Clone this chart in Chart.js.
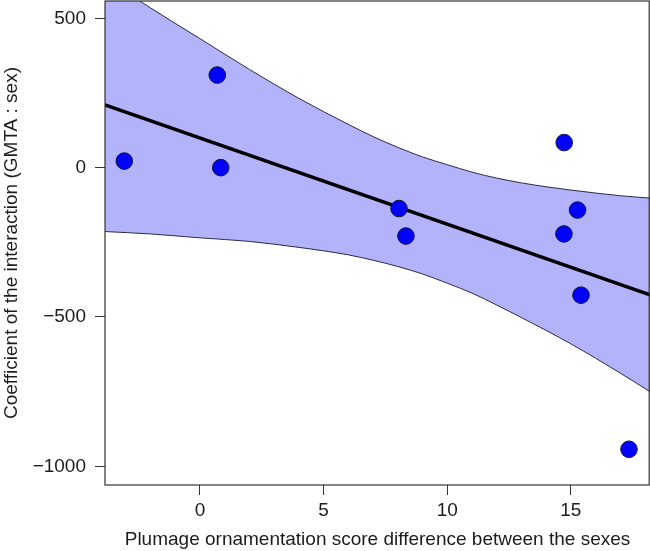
<!DOCTYPE html>
<html>
<head>
<meta charset="utf-8">
<script src="https://cdn.jsdelivr.net/npm/chart.js@4.4.1/dist/chart.umd.min.js"></script>
<style>
  html, body { margin: 0; padding: 0; background: #fff; }
  #chart { display: block; }
</style>
</head>
<body>
<canvas id="chart" width="650" height="551"></canvas>
<script>
// species points
const pointX = [-3.06, 0.70, 0.84, 8.05, 8.33, 14.73, 15.27, 14.72, 15.41, 17.35];
const pointY = [22, 310, 0, -137, -229, 84, -142, -222, -427, -943];

// fitted regression line (ends at plot edges)
const fitX = [-3.84, 18.2];
const fitY = [210, -426];

// confidence band
const bandX = [-3.84, -2, 0, 2, 4, 6, 7, 8, 9, 10, 11, 12, 13, 14, 15, 16, 17, 18.2];
const bandUpper = [636, 535, 432, 329, 232, 145, 104, 68, 36, 10, -15, -35, -51, -64, -75, -85, -94, -102];
const bandLower = [-214, -222, -235, -247, -267, -292, -310, -331, -356, -387, -420, -460, -502, -545, -590, -638, -688, -750];

const xTicks = [0, 5, 10, 15];
const yTicks = [-1000, -500, 0, 500];

const FONT = "'Liberation Sans', Arial, Helvetica, sans-serif";
const FONT_SIZE = 19;
const INK = '#1c1c1c';

const toXY = (xs, ys) => xs.map((x, i) => ({ x: x, y: ys[i] }));

// no extra room for tick labels, the plot fills its box
function noPad(scale) {
    scale.paddingTop = 0;
    scale.paddingBottom = 0;
    scale.paddingLeft = 0;
    scale.paddingRight = 0;
}

// box round the plot, as R's box()
const plotBox = {
    id: 'plotBox',
    afterDatasetsDraw(chart) {
        const { ctx, chartArea: a } = chart;
        ctx.save();
        ctx.strokeStyle = '#333';
        ctx.lineWidth = 1.2;
        ctx.strokeRect(a.left, a.top, a.right - a.left - 0.8, a.bottom - a.top);
        ctx.restore();
    }
};

new Chart(document.getElementById('chart'), {
    type: 'scatter',
    data: {
        datasets: [
            {
                label: 'points',
                data: toXY(pointX, pointY),
                order: 0,
                pointRadius: 8.3,
                pointHoverRadius: 8.3,
                backgroundColor: '#0000ff',
                borderColor: '#14143c',
                borderWidth: 1
            },
            {
                label: 'fit',
                data: toXY(fitX, fitY),
                order: 1,
                showLine: true,
                pointRadius: 0,
                borderColor: '#000',
                borderWidth: 3.5
            },
            {
                label: 'upper',
                data: toXY(bandX, bandUpper),
                order: 3,
                showLine: true,
                pointRadius: 0,
                borderColor: '#2a2a48',
                borderWidth: 1,
                cubicInterpolationMode: 'monotone',
                fill: '+1',
                backgroundColor: '#b3b3fb'
            },
            {
                label: 'lower',
                data: toXY(bandX, bandLower),
                order: 2,
                showLine: true,
                pointRadius: 0,
                borderColor: '#2a2a48',
                borderWidth: 1,
                cubicInterpolationMode: 'monotone'
            }
        ]
    },
    options: {
        responsive: false,
        animation: false,
        devicePixelRatio: 1,
        layout: { autoPadding: false, padding: { top: 1, right: 0, left: 0, bottom: 0 } },
        plugins: {
            legend: { display: false },
            tooltip: { enabled: false }
        },
        scales: {
            x: {
                type: 'linear',
                min: -3.84,
                max: 18.2,
                afterBuildTicks: (scale) => { scale.ticks = xTicks.map(v => ({ value: v })); },
                afterFit: (scale) => { scale.height = 66; noPad(scale); },
                border: { display: false },
                grid: { drawOnChartArea: false, drawTicks: true, tickLength: 10, color: '#333', lineWidth: 1 },
                ticks: { color: INK, font: { family: FONT, size: FONT_SIZE }, padding: 4, maxRotation: 0 },
                title: {
                    display: true,
                    text: 'Plumage ornamentation score difference between the sexes',
                    color: INK,
                    font: { family: FONT, size: FONT_SIZE },
                    padding: { top: 0, bottom: 0 }
                }
            },
            y: {
                type: 'linear',
                min: -1062.6,
                max: 558,
                afterBuildTicks: (scale) => { scale.ticks = yTicks.map(v => ({ value: v })); },
                afterFit: (scale) => { scale.width = 105; noPad(scale); },
                border: { display: false },
                grid: { drawOnChartArea: false, drawTicks: true, tickLength: 10, color: '#333', lineWidth: 1 },
                ticks: {
                    color: INK,
                    font: { family: FONT, size: FONT_SIZE },
                    padding: 9,
                    callback: (v) => String(v).replace('-', '\u2212')
                },
                title: {
                    display: true,
                    text: 'Coefficient of the interaction (GMTA : sex)',
                    color: INK,
                    font: { family: FONT, size: FONT_SIZE },
                    padding: { top: 0, bottom: 0 }
                }
            }
        }
    },
    plugins: [plotBox]
});
</script>
</body>
</html>
